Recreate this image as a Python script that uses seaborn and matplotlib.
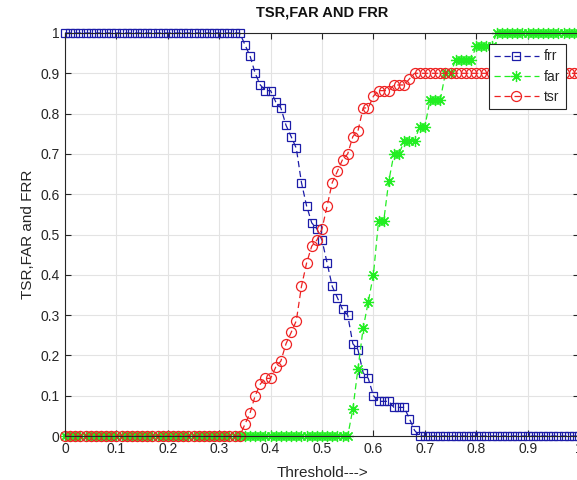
import numpy as np
import pandas as pd
import matplotlib
matplotlib.use("Agg")
import matplotlib.pyplot as plt
import seaborn as sns
from matplotlib.ticker import FixedLocator, FuncFormatter

# ---- data ----
threshold = np.round(np.linspace(0, 1, 101), 2)

frr = ([1.0] * 35 +
       [0.971, 0.943, 0.900, 0.871, 0.857, 0.857, 0.829, 0.814, 0.771, 0.743,
        0.714, 0.629, 0.571, 0.529, 0.514, 0.486, 0.429, 0.371, 0.343, 0.314,
        0.300, 0.229, 0.214, 0.157, 0.143, 0.100, 0.086, 0.086, 0.086, 0.071,
        0.071, 0.071, 0.043, 0.014] +
       [0.0] * 32)

far = ([0.0] * 56 +
       [0.067, 0.167, 0.267, 0.333, 0.400, 0.533, 0.533, 0.633, 0.700, 0.700,
        0.733, 0.733, 0.733, 0.767, 0.767, 0.833, 0.833, 0.833, 0.900, 0.900,
        0.933, 0.933, 0.933, 0.933, 0.967, 0.967, 0.967, 0.967] +
       [1.0] * 17)

tsr = ([0.0] * 35 +
       [0.029, 0.057, 0.100, 0.129, 0.143, 0.143, 0.171, 0.186, 0.229, 0.257,
        0.286, 0.371, 0.429, 0.471, 0.486, 0.514, 0.571, 0.629, 0.657, 0.686,
        0.700, 0.743, 0.757, 0.814, 0.814, 0.843, 0.857, 0.857, 0.857, 0.871,
        0.871, 0.871, 0.886] +
       [0.9] * 33)

series_names = ["frr", "far", "tsr"]
x_ticks = [0, 0.1, 0.2, 0.3, 0.4, 0.5, 0.6, 0.7, 0.8, 0.9, 1]
y_ticks = [0, 0.1, 0.2, 0.3, 0.4, 0.5, 0.6, 0.7, 0.8, 0.9, 1]

df = pd.DataFrame({"threshold": threshold, "frr": frr, "far": far, "tsr": tsr})

# ---- style ----
sns.set_theme(style="whitegrid")
plt.rcParams["font.family"] = ["Liberation Sans", "DejaVu Sans"]

fig = plt.figure(figsize=(5.77, 4.80), dpi=100)
ax = fig.add_axes([65 / 577, 44 / 480, 514 / 577, 403 / 480])
ax.set_facecolor("white")

styles = {
    "frr": dict(color="#1c1ca8", marker="s", markersize=5.6),
    "far": dict(color="#22ee22", marker=(8, 2, 0), markersize=8.0),
    "tsr": dict(color="#ee2222", marker="o", markersize=7.2),
}

for name in series_names:
    st = styles[name]
    sns.lineplot(data=df, x="threshold", y=name, ax=ax, label=name,
                 color=st["color"], linestyle=(0, (5, 3)), linewidth=0.9,
                 marker=st["marker"], markersize=st["markersize"],
                 markerfacecolor="none", markeredgecolor=st["color"],
                 markeredgewidth=0.9, clip_on=False)

ax.set_xlim(0, 1)
ax.set_ylim(0, 1)
ax.xaxis.set_major_locator(FixedLocator(x_ticks))
ax.yaxis.set_major_locator(FixedLocator(y_ticks))
fmt = FuncFormatter(lambda v, p: "%g" % v)
ax.xaxis.set_major_formatter(fmt)
ax.yaxis.set_major_formatter(fmt)

ax.grid(True, color="#e3e3e3", linewidth=0.8)
for s in ax.spines.values():
    s.set_visible(True)
    s.set_color("#262626")
    s.set_linewidth(0.8)
ax.tick_params(direction="in", length=4, width=0.8, colors="#262626",
               labelsize=10, top=True, right=True, bottom=True, left=True,
               pad=4, labelcolor="#262626")

ax.set_title("TSR,FAR AND FRR", fontsize=10.5, fontweight="bold", pad=12,
             color="#111111")
ax.set_ylabel("TSR,FAR and FRR", fontsize=11, labelpad=4, color="#262626")
ax.set_xlabel("Threshold--->", fontsize=11, labelpad=7.5, color="#262626")

leg = ax.legend(loc="upper right", bbox_to_anchor=(0.975, 0.973),
                borderaxespad=0, frameon=True, fancybox=False,
                fontsize=10, handlelength=3.2, handletextpad=0.4,
                borderpad=0.4, labelspacing=0.45, numpoints=1)
leg.get_frame().set_edgecolor("#262626")
leg.get_frame().set_linewidth(0.8)
leg.get_frame().set_alpha(1)

fig.savefig("out.png", dpi=100)
